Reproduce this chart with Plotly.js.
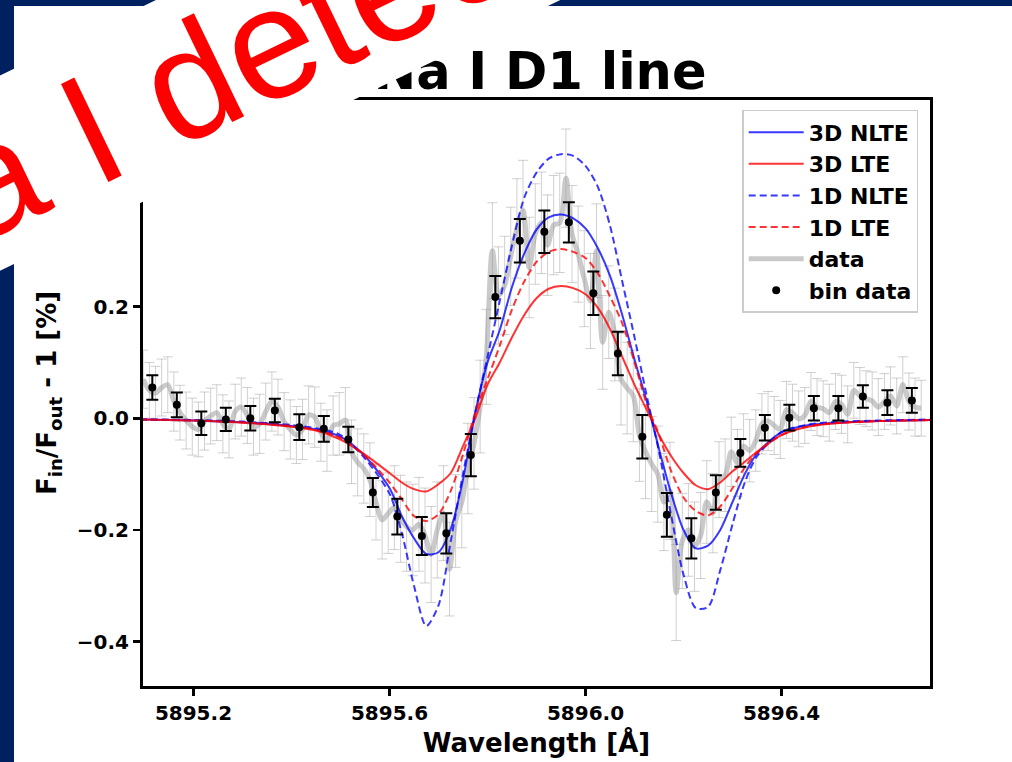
<!DOCTYPE html>
<html>
<head>
<meta charset="utf-8">
<script src="https://cdn.plot.ly/plotly-3.0.1.min.js"></script>
<style>
html,body{margin:0;padding:0;background:#ffffff;}
#chart{width:1012px;height:762px;}
</style>
</head>
<body>
<div id="chart"></div>
<script>
// ---------- model curves ----------
const modelWave = [5895.09,5895.20,5895.30,5895.40,5895.45,5895.50,5895.55,5895.60,5895.625,5895.65,
  5895.675,5895.70,5895.725,5895.75,5895.775,5895.80,5895.825,5895.85,5895.875,5895.90,
  5895.925,5895.95,5895.975,5896.00,5896.025,5896.05,5896.075,5896.10,5896.125,5896.15,
  5896.175,5896.20,5896.225,5896.25,5896.275,5896.30,5896.325,5896.35,5896.40,5896.45,
  5896.50,5896.60,5896.71];
const nlte3d = [-0.002,-0.004,-0.007,-0.014,-0.020,-0.033,-0.068,-0.125,-0.175,-0.215,
  -0.243,-0.240,-0.198,-0.110,0.010,0.100,0.158,0.235,0.295,0.338,
  0.360,0.365,0.358,0.340,0.305,0.255,0.185,0.105,0.030,-0.055,
  -0.135,-0.200,-0.233,-0.228,-0.200,-0.150,-0.100,-0.063,-0.025,-0.013,
  -0.009,-0.005,-0.003];
const lte3d = [-0.002,-0.004,-0.008,-0.015,-0.022,-0.038,-0.065,-0.098,-0.115,-0.127,
  -0.131,-0.118,-0.098,-0.050,0.000,0.060,0.100,0.145,0.185,0.215,
  0.232,0.237,0.233,0.222,0.198,0.160,0.110,0.060,0.015,-0.030,
  -0.068,-0.098,-0.120,-0.127,-0.115,-0.095,-0.078,-0.060,-0.030,-0.016,
  -0.010,-0.005,-0.003];
const nlte1d = [-0.002,-0.003,-0.006,-0.012,-0.018,-0.030,-0.072,-0.135,-0.205,-0.300,
  -0.372,-0.335,-0.220,-0.100,0.010,0.110,0.210,0.310,0.395,0.440,
  0.465,0.473,0.470,0.452,0.415,0.345,0.245,0.145,0.040,-0.060,
  -0.175,-0.280,-0.340,-0.338,-0.272,-0.190,-0.115,-0.068,-0.025,-0.012,
  -0.007,-0.004,-0.002];
const lte1d = [-0.002,-0.004,-0.007,-0.014,-0.021,-0.035,-0.068,-0.115,-0.145,-0.175,
  -0.184,-0.172,-0.130,-0.065,0.010,0.070,0.130,0.195,0.245,0.280,
  0.298,0.303,0.298,0.287,0.260,0.218,0.170,0.100,0.025,-0.030,
  -0.095,-0.142,-0.166,-0.174,-0.158,-0.125,-0.088,-0.062,-0.030,-0.015,
  -0.009,-0.005,-0.003];

// ---------- unbinned data ----------
const dataWave = [
  5895.0975,5895.1100,5895.1225,5895.1350, 5895.1475,5895.1600,5895.1725,5895.1850,
  5895.1975,5895.2100,5895.2225,5895.2350, 5895.2475,5895.2600,5895.2725,5895.2850,
  5895.2975,5895.3100,5895.3225,5895.3350, 5895.3475,5895.3600,5895.3725,5895.3850,
  5895.3975,5895.4100,5895.4225,5895.4350, 5895.4475,5895.4600,5895.4725,5895.4850,
  5895.4975,5895.5100,5895.5225,5895.5350, 5895.5475,5895.5600,5895.5725,5895.5850,
  5895.5975,5895.6100,5895.6225,5895.6350, 5895.6475,5895.6600,5895.6725,5895.6850,
  5895.6975,5895.7100,5895.7225,5895.7350, 5895.7475,5895.7600,5895.7725,5895.7850,
  5895.7975,5895.8100,5895.8225,5895.8350, 5895.8475,5895.8600,5895.8725,5895.8850,
  5895.8975,5895.9100,5895.9225,5895.9350, 5895.9475,5895.9600,5895.9725,5895.9850,
  5895.9975,5896.0100,5896.0225,5896.0350, 5896.0475,5896.0600,5896.0725,5896.0850,
  5896.0975,5896.1100,5896.1225,5896.1350, 5896.1475,5896.1600,5896.1725,5896.1850,
  5896.1975,5896.2100,5896.2225,5896.2350, 5896.2475,5896.2600,5896.2725,5896.2850,
  5896.2975,5896.3100,5896.3225,5896.3350, 5896.3475,5896.3600,5896.3725,5896.3850,
  5896.3975,5896.4100,5896.4225,5896.4350, 5896.4475,5896.4600,5896.4725,5896.4850,
  5896.4975,5896.5100,5896.5225,5896.5350, 5896.5475,5896.5600,5896.5725,5896.5850,
  5896.5975,5896.6100,5896.6225,5896.6350, 5896.6475,5896.6600,5896.6725,5896.6850];
const dataFlux = [
  0.070,0.050,0.045,0.055, 0.060,0.030,0.010,-0.004,
  -0.015,-0.020,-0.005,0.004, 0.010,-0.010,-0.020,0.012,
  0.020,0.005,-0.015,-0.010, 0.012,0.030,0.020,-0.006,
  -0.020,-0.030,-0.020,0.006, 0.002,-0.025,-0.040,-0.013,
  -0.010,-0.003,-0.060,-0.079, -0.090,-0.110,-0.150,-0.182,
  -0.170,-0.160,-0.180,-0.194, -0.200,-0.190,-0.210,-0.244,
  -0.200,-0.170,-0.270,-0.184, -0.150,-0.090,-0.045,0.021,
  0.110,0.300,0.220,0.238, 0.290,0.340,0.372,0.270,
  0.330,0.350,0.310,0.346, 0.350,0.430,0.330,0.294,
  0.250,0.210,0.300,0.136, 0.190,0.150,0.070,0.054,
  0.040,-0.030,-0.060,-0.082, -0.100,-0.150,-0.130,-0.312,
  -0.220,-0.200,-0.230,-0.210, -0.150,-0.170,-0.110,-0.102,
  -0.060,-0.080,-0.050,-0.058, -0.040,-0.010,-0.005,-0.013,
  -0.020,0.015,0.010,-0.001, 0.005,0.030,0.020,0.017,
  0.010,0.030,0.025,0.007, 0.050,0.040,0.035,0.031,
  0.020,0.030,0.040,0.022, 0.060,0.030,0.020,0.018];
const dataErr = [
  0.052,0.050,0.048,0.051, 0.050,0.053,0.049,0.051,
  0.051,0.049,0.052,0.050, 0.050,0.052,0.051,0.049,
  0.052,0.050,0.051,0.053, 0.051,0.053,0.050,0.052,
  0.053,0.051,0.054,0.052, 0.054,0.052,0.055,0.053,
  0.056,0.058,0.057,0.060, 0.062,0.066,0.068,0.070,
  0.072,0.075,0.078,0.080, 0.082,0.084,0.085,0.086,
  0.086,0.085,0.084,0.083, 0.082,0.081,0.082,0.083,
  0.085,0.086,0.087,0.088, 0.088,0.089,0.090,0.090,
  0.090,0.091,0.090,0.089, 0.089,0.088,0.087,0.086,
  0.086,0.085,0.084,0.084, 0.083,0.083,0.082,0.082,
  0.082,0.083,0.084,0.085, 0.086,0.087,0.087,0.086,
  0.085,0.083,0.080,0.077, 0.074,0.071,0.068,0.065,
  0.062,0.060,0.058,0.056, 0.055,0.054,0.053,0.052,
  0.052,0.051,0.051,0.050, 0.050,0.052,0.051,0.050,
  0.051,0.050,0.052,0.051, 0.050,0.051,0.050,0.052,
  0.051,0.050,0.052,0.050, 0.050,0.051,0.052,0.050];

// ---------- binned data ----------
const binWave = [5895.116,5895.166,5895.216,5895.266,5895.316,5895.366,5895.416,5895.466,
  5895.516,5895.566,5895.616,5895.666,5895.716,5895.766,5895.816,5895.866,
  5895.916,5895.966,5896.016,5896.066,5896.116,5896.166,5896.216,5896.266,
  5896.316,5896.366,5896.416,5896.466,5896.516,5896.566,5896.616,5896.666];
const binFlux = [0.055,0.024,-0.009,-0.002,0.000,0.014,-0.016,-0.019,
  -0.038,-0.133,-0.176,-0.211,-0.206,-0.066,0.217,0.318,
  0.334,0.351,0.224,0.116,-0.033,-0.173,-0.215,-0.133,
  -0.062,-0.017,0.001,0.018,0.018,0.039,0.028,0.032];
const binErr = [0.022,0.022,0.021,0.021,0.022,0.021,0.023,0.023,
  0.023,0.026,0.032,0.034,0.036,0.038,0.038,0.039,
  0.038,0.036,0.039,0.039,0.039,0.039,0.036,0.031,
  0.025,0.023,0.023,0.022,0.022,0.020,0.022,0.022];

// ---------- ticks & labels ----------
const xTicks = [5895.2, 5895.6, 5896.0, 5896.4];
const yTicks = [-0.4, -0.2, 0.0, 0.2];
const seriesNames = ['3D NLTE','3D LTE','1D NLTE','1D LTE','data','bin data'];
const chartTitle = 'Na I D1 line';
const overlayText = 'Na I detected';

const FONT = 'DejaVu Sans, Verdana, sans-serif';
const BLUE = 'rgba(0,0,255,0.78)';
const RED = 'rgba(255,0,0,0.8)';

function model(y, name, color, dash, rank) {
  return {x: modelWave, y: y, name: name, type: 'scatter', mode: 'lines',
    line: {color: color, width: 2, dash: dash, shape: 'spline', smoothing: 0.8},
    legendrank: rank};
}

const traces = [
  {x: dataWave, y: dataFlux, name: seriesNames[4], type: 'scatter', mode: 'lines',
    line: {color: 'rgba(150,150,150,0.5)', width: 5, shape: 'spline', smoothing: 0.9},
    error_y: {type: 'data', array: dataErr, visible: true, color: 'rgba(150,150,150,0.45)', thickness: 1, width: 5},
    legendrank: 5},
  model(nlte3d, seriesNames[0], BLUE, 'solid', 1),
  model(lte3d, seriesNames[1], RED, 'solid', 2),
  model(nlte1d, seriesNames[2], BLUE, '7px,4px', 3),
  model(lte1d, seriesNames[3], RED, '7px,4px', 4),
  {x: binWave, y: binFlux, name: seriesNames[5], type: 'scatter', mode: 'markers',
    marker: {color: '#000000', size: 8},
    error_y: {type: 'data', array: binErr, visible: true, color: '#000000', thickness: 2, width: 6},
    legendrank: 6}
];

const axisFont = {family: FONT, size: 20, weight: 700, color: '#000000'};
const titleFont = {family: FONT, size: 26, weight: 700, color: '#000000'};

const layout = {
  width: 1012, height: 762,
  margin: {l: 143, r: 82, t: 100, b: 76, pad: 0},
  paper_bgcolor: '#ffffff', plot_bgcolor: '#ffffff',
  showlegend: true,
  title: {text: chartTitle, font: {family: FONT, size: 51, weight: 700, color: '#000000'},
    xref: 'container', x: 0.5336, xanchor: 'center', yref: 'container', y: 0.907, yanchor: 'middle'},
  xaxis: {range: [5895.097, 5896.703], tickvals: xTicks, tickformat: '.1f',
    showgrid: false, zeroline: false, showline: true, mirror: true, linecolor: '#000000', linewidth: 3,
    ticks: 'outside', ticklen: 7, tickwidth: 2.5, tickcolor: '#000000', tickfont: axisFont,
    title: {text: 'Wavelength [Å]', font: titleFont, standoff: 10}},
  yaxis: {range: [-0.4795, 0.570], tickvals: yTicks, tickformat: '.1f',
    showgrid: false, zeroline: false, showline: true, mirror: true, linecolor: '#000000', linewidth: 3,
    ticks: 'outside', ticklen: 7, tickwidth: 2.5, tickcolor: '#000000', tickfont: axisFont,
    title: {text: 'F<sub>in</sub>/F<sub>out</sub> - 1 [%]', font: titleFont, standoff: 13}},
  legend: {x: 0.985, y: 0.983, xanchor: 'right', yanchor: 'top',
    bgcolor: 'rgba(255,255,255,0.85)', bordercolor: '#cccccc', borderwidth: 1.5,
    font: {family: FONT, size: 22, weight: 700, color: '#000000'}, tracegroupgap: 0,
    itemwidth: 55},
  shapes: [
    {type: 'rect', xref: 'paper', yref: 'paper', x0: -0.2, x1: -0.1639, y0: -0.2, y1: 1.2,
      fillcolor: '#002060', line: {width: 0}, layer: 'below'},
    {type: 'rect', xref: 'paper', yref: 'paper', x0: -0.2, x1: 1.2, y0: 1.1604, y1: 1.2,
      fillcolor: '#002060', line: {width: 0}, layer: 'below'}
  ],
  annotations: [
    {text: overlayText, xref: 'paper', yref: 'paper', x: 0.1656, y: 1.1005,
      xanchor: 'center', yanchor: 'middle', showarrow: false, textangle: -25.8,
      font: {family: 'Liberation Sans, Arial, sans-serif', size: 158, color: '#ff0000'},
      bgcolor: '#ffffff', borderpad: 0, borderwidth: 0}
  ]
};

Plotly.newPlot('chart', traces, layout, {staticPlot: true, displayModeBar: false});
</script>
</body>
</html>
